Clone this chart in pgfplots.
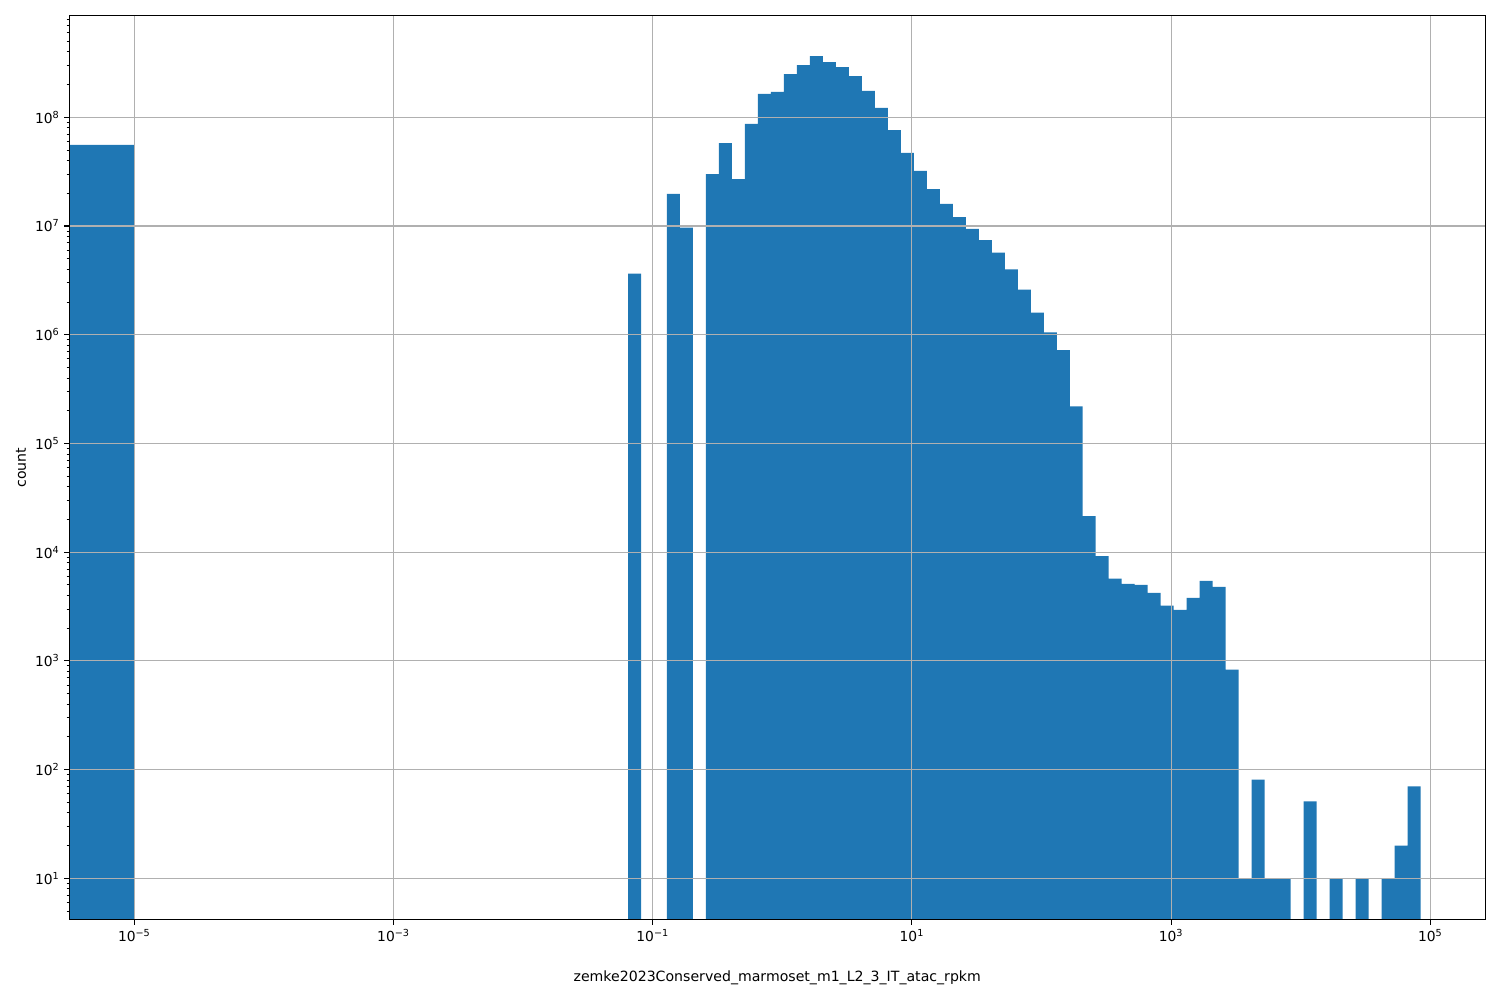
\documentclass[border=0pt]{standalone}
\usepackage{pgfplots}
\pgfplotsset{compat=1.18}
\usepackage{pgfplotstable}
\usepackage{fontspec}
\setmainfont{DejaVu Sans}
\definecolor{mplblue}{HTML}{1F77B4}
\definecolor{mplgrid}{HTML}{B0B0B0}

\pgfplotstableread{
x y
1e-7 1
1e-7 5.57e7
1e-5 1
0.06449 3.65e6
0.08124 1
0.12890 1.98e7
0.16237 9.66e6
0.20453 1
0.25763 3.0e7
0.32453 5.8e7
0.40879 2.7e7
0.51493 8.7e7
0.64864 1.64e8
0.81706 1.71e8
1.0292 2.5e8
1.2964 3.02e8
1.6331 3.66e8
2.0571 3.22e8
2.5912 2.9e8
3.2640 2.39e8
4.1115 1.75e8
5.1791 1.22e8
6.5238 7.63e7
8.2177 4.70e7
10.351 3.21e7
13.039 2.19e7
16.425 1.60e7
20.690 1.21e7
26.062 9.4e6
32.829 7.4e6
41.354 5.7e6
52.091 4.0e6
65.617 2.6e6
82.654 1.6e6
104.11 1.05e6
131.15 7.2e5
165.20 2.19e5
208.10 2.14e4
262.13 9.2e3
330.20 5.7e3
415.93 5.1e3
523.93 4.99e3
659.98 4.23e3
831.34 3.22e3
1047.1 2.95e3
1319.0 3.8e3
1661.5 5.45e3
2093.0 4.8e3
2636.3 832
3320.9 10
4183.2 81
5269.3 10
6637.4 10
8360.9 1
10532 51
13266 1
16711 10
21050 1
26516 10
33401 1
42073 10
52997 20
66758 70
84092 1
}\histdata

\begin{document}
\begin{tikzpicture}
\begin{axis}[
  name=ax,
  scale only axis,
  width=14.16in, height=9.044in,
  xmode=log, ymode=log,
  xmin=3.151e-6, xmax=2.657e5,
  ymin=4.16, ymax=8.677e8,
  axis on top,
  axis line style={black, line width=0.8pt},
  grid=major,
  major grid style={mplgrid, line width=0.8pt},
  tick align=outside,
  xtick pos=bottom, ytick pos=left,
  major tick length=3.5pt, minor tick length=2pt,
  major tick style={black, line width=0.8pt},
  minor tick style={black, line width=0.6pt},
  xtick={1e-5,1e-3,1e-1,1e1,1e3,1e5},
  xticklabels={10\textsuperscript{−5},10\textsuperscript{−3},10\textsuperscript{−1},10\textsuperscript{1},10\textsuperscript{3},10\textsuperscript{5}},
  xminorticks=false,
  ytick={1e1,1e2,1e3,1e4,1e5,1e6,1e7,1e8},
  yticklabels={10\textsuperscript{1},10\textsuperscript{2},10\textsuperscript{3},10\textsuperscript{4},10\textsuperscript{5},10\textsuperscript{6},10\textsuperscript{7},10\textsuperscript{8}},
  minor ytick={5,6,7,8,9,20,30,40,50,60,70,80,90,200,300,400,500,600,700,800,900,2000,3000,4000,5000,6000,7000,8000,9000,2e4,3e4,4e4,5e4,6e4,7e4,8e4,9e4,2e5,3e5,4e5,5e5,6e5,7e5,8e5,9e5,2e6,3e6,4e6,5e6,6e6,7e6,8e6,9e6,2e7,3e7,4e7,5e7,6e7,7e7,8e7,9e7,2e8,3e8,4e8,5e8,6e8,7e8,8e8},
  tick label style={font=\fontsize{10}{12}\selectfont},
  label style={font=\fontsize{10.2}{12}\selectfont},
  xlabel={zemke2023Conserved\_marmoset\_m1\_L2\_3\_IT\_atac\_rpkm},
  xlabel style={at={(axis description cs:0.5,-0.0678)}, anchor=base},
  ylabel={count},
  ylabel style={at={(axis description cs:-0.0306,0.5)}, anchor=base, rotate=0},
]
\addplot[const plot mark left, fill=mplblue, draw=none] table[x=x, y=y] {\histdata};
\end{axis}
\path ([shift={(-0.693in,-0.803in)}]ax.south west) rectangle ([shift={(0.147in,0.153in)}]ax.north east);
\end{tikzpicture}
\end{document}
